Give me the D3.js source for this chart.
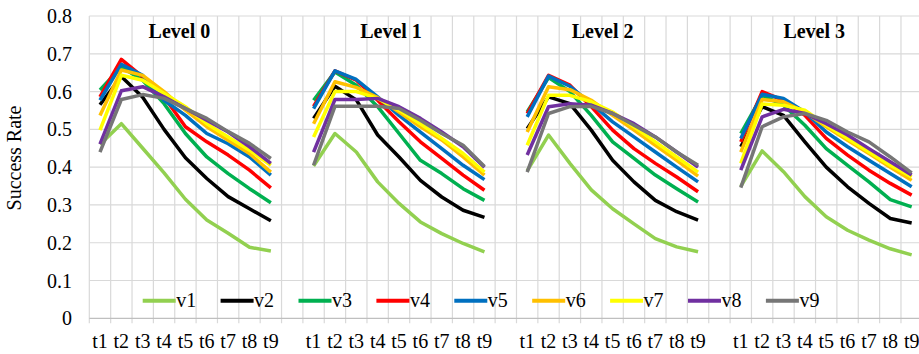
<!DOCTYPE html>
<html>
<head>
<meta charset="utf-8">
<script src="https://cdn.jsdelivr.net/npm/d3@7"></script>
<style>
  html, body { margin: 0; padding: 0; background: #fff; }
  svg { display: block; }
  svg text { font-family: 'Liberation Serif', 'DejaVu Serif', serif; }
</style>
</head>
<body>
<svg id="chart" width="919" height="354"></svg>
<script>
// categories and series
let steps = ['t1', 't2', 't3', 't4', 't5', 't6', 't7', 't8', 't9'];
let levels = ['Level 0', 'Level 1', 'Level 2', 'Level 3'];
let seriesNames = ['v1', 'v2', 'v3', 'v4', 'v5', 'v6', 'v7', 'v8', 'v9'];
let seriesColors = ['#92d050', '#000000', '#00b050', '#ff0000', '#0070c0', '#ffc000', '#ffff00', '#7030a0', '#767676'];
let yTicks = [0, 0.1, 0.2, 0.3, 0.4, 0.5, 0.6, 0.7, 0.8];

// success rate, one row per series (v1..v9), one value per step (t1..t9)
let level0 = [
    [0.46, 0.515, 0.45, 0.385, 0.315, 0.26, 0.225, 0.188, 0.178],
    [0.565, 0.64, 0.585, 0.5, 0.425, 0.37, 0.322, 0.29, 0.258],
    [0.604, 0.665, 0.63, 0.568, 0.489, 0.427, 0.383, 0.343, 0.306],
    [0.586, 0.685, 0.639, 0.586, 0.507, 0.467, 0.432, 0.392, 0.345],
    [0.577, 0.672, 0.643, 0.577, 0.537, 0.489, 0.462, 0.427, 0.379],
    [0.537, 0.657, 0.643, 0.6, 0.551, 0.507, 0.471, 0.436, 0.387],
    [0.498, 0.643, 0.63, 0.595, 0.56, 0.515, 0.48, 0.445, 0.405],
    [0.461, 0.602, 0.613, 0.586, 0.555, 0.524, 0.493, 0.454, 0.41],
    [0.44, 0.579, 0.592, 0.582, 0.555, 0.529, 0.494, 0.463, 0.423]
];
let level1 = [
    [0.403, 0.489, 0.44, 0.361, 0.304, 0.255, 0.224, 0.198, 0.176],
    [0.529, 0.614, 0.578, 0.485, 0.427, 0.365, 0.321, 0.286, 0.267],
    [0.577, 0.652, 0.617, 0.56, 0.489, 0.418, 0.383, 0.343, 0.312],
    [0.561, 0.655, 0.63, 0.577, 0.52, 0.467, 0.423, 0.379, 0.339],
    [0.555, 0.655, 0.632, 0.586, 0.537, 0.493, 0.449, 0.405, 0.367],
    [0.515, 0.626, 0.611, 0.584, 0.546, 0.507, 0.472, 0.427, 0.379],
    [0.48, 0.6, 0.6, 0.582, 0.551, 0.515, 0.476, 0.436, 0.387],
    [0.44, 0.579, 0.579, 0.582, 0.56, 0.529, 0.493, 0.454, 0.4],
    [0.405, 0.561, 0.561, 0.561, 0.555, 0.524, 0.489, 0.458, 0.402]
];
let level2 = [
    [0.39, 0.485, 0.41, 0.34, 0.29, 0.25, 0.211, 0.189, 0.176],
    [0.502, 0.586, 0.568, 0.498, 0.418, 0.361, 0.312, 0.282, 0.26],
    [0.546, 0.637, 0.6, 0.537, 0.467, 0.423, 0.379, 0.343, 0.308],
    [0.542, 0.643, 0.617, 0.56, 0.498, 0.449, 0.41, 0.374, 0.335],
    [0.533, 0.641, 0.614, 0.568, 0.52, 0.48, 0.44, 0.4, 0.361],
    [0.493, 0.613, 0.605, 0.577, 0.537, 0.498, 0.458, 0.418, 0.376],
    [0.458, 0.59, 0.59, 0.573, 0.546, 0.507, 0.467, 0.427, 0.387],
    [0.432, 0.56, 0.568, 0.564, 0.542, 0.515, 0.48, 0.44, 0.4],
    [0.387, 0.542, 0.56, 0.561, 0.542, 0.511, 0.48, 0.44, 0.405]
];
let level3 = [
    [0.349, 0.443, 0.388, 0.322, 0.269, 0.233, 0.207, 0.184, 0.168],
    [0.454, 0.56, 0.537, 0.467, 0.4, 0.348, 0.304, 0.264, 0.252],
    [0.489, 0.59, 0.564, 0.511, 0.449, 0.405, 0.361, 0.314, 0.295],
    [0.467, 0.6, 0.577, 0.537, 0.476, 0.432, 0.392, 0.357, 0.326],
    [0.476, 0.593, 0.582, 0.546, 0.493, 0.454, 0.418, 0.383, 0.348],
    [0.44, 0.579, 0.573, 0.546, 0.507, 0.471, 0.436, 0.4, 0.365],
    [0.41, 0.567, 0.564, 0.551, 0.511, 0.476, 0.44, 0.405, 0.374],
    [0.392, 0.533, 0.553, 0.542, 0.515, 0.485, 0.449, 0.414, 0.379],
    [0.346, 0.507, 0.533, 0.542, 0.524, 0.493, 0.467, 0.427, 0.385]
];
let levelData = [level0, level1, level2, level3];

let svg = d3.select('#chart');
let plotLeft = 89.3, bandW = 21.36;
let plotTop = 16, plotBottom = 318.3;
let fontSize = 20;

// each level takes 9 categories plus one empty slot
let slots = [];
levels.forEach((lv, i) => {
    steps.forEach(s => slots.push(i + '|' + s));
    slots.push(i + '|gap');
});

let x = d3.scaleBand().domain(slots).range([plotLeft, plotLeft + slots.length * bandW]).padding(0);
let y = d3.scaleLinear().domain([0, 0.8]).range([plotBottom, plotTop]);

let grid = svg.append('g');
// horizontal gridlines
grid.selectAll('line.h')
    .data(yTicks.slice(1))
    .join('line')
    .attr('class', 'h')
    .attr('x1', plotLeft).attr('x2', 919)
    .attr('y1', d => y(d)).attr('y2', d => y(d))
    .attr('stroke', '#d9d9d9').attr('stroke-width', 1.2);
// vertical gridlines at category edges
grid.selectAll('line.v')
    .data(slots)
    .join('line')
    .attr('class', 'v')
    .attr('x1', d => x(d)).attr('x2', d => x(d))
    .attr('y1', plotTop).attr('y2', plotBottom + 5)
    .attr('stroke', '#d9d9d9').attr('stroke-width', 1.2);

// x axis line
svg.append('line')
    .attr('x1', plotLeft).attr('x2', 919)
    .attr('y1', plotBottom).attr('y2', plotBottom)
    .attr('stroke', '#bfbfbf').attr('stroke-width', 1.2);

// y tick labels
svg.append('g').selectAll('text')
    .data(yTicks)
    .join('text')
    .attr('x', 72)
    .attr('y', d => y(d))
    .attr('dy', '0.35em')
    .attr('text-anchor', 'end')
    .attr('font-size', fontSize)
    .text(d => d === 0 ? '0' : d.toFixed(1));

// y axis title
svg.append('text')
    .attr('transform', 'translate(21,158) rotate(-90)')
    .attr('text-anchor', 'middle')
    .attr('font-size', fontSize)
    .text('Success Rate');

// x tick labels
svg.append('g').selectAll('text')
    .data(slots.filter(s => !s.endsWith('gap')))
    .join('text')
    .attr('x', d => x(d) + bandW / 2)
    .attr('y', 348)
    .attr('text-anchor', 'middle')
    .attr('font-size', fontSize)
    .text(d => d.split('|')[1]);

// level titles
svg.append('g').selectAll('text')
    .data(levels)
    .join('text')
    .attr('x', (d, i) => x(i + '|t5') + bandW / 2 - 6 - 2 * i)
    .attr('y', 38)
    .attr('text-anchor', 'middle')
    .attr('font-size', fontSize)
    .attr('font-weight', 'bold')
    .text(d => d);

// series lines
let line = d3.line()
    .x(d => x(d.slot) + bandW / 2)
    .y(d => y(d.value));

let lineLayer = svg.append('g');
seriesNames.forEach((name, si) => {
    levelData.forEach((lv, li) => {
        let pts = steps.map((s, k) => ({ slot: li + '|' + s, value: lv[si][k] }));
        lineLayer.append('path')
            .datum(pts)
            .attr('d', line)
            .attr('fill', 'none')
            .attr('stroke', seriesColors[si])
            .attr('stroke-width', 3.5)
            .attr('stroke-linejoin', 'round');
    });
});

// legend
let legend = svg.append('g').selectAll('g')
    .data(seriesNames)
    .join('g')
    .attr('transform', (d, i) => `translate(${142.7 + i * 77.9},300.7)`);
legend.append('line')
    .attr('x1', 0).attr('x2', 33)
    .attr('stroke', (d, i) => seriesColors[i])
    .attr('stroke-width', 4);
legend.append('text')
    .attr('x', 33.5)
    .attr('y', 6.5)
    .attr('font-size', fontSize)
    .text(d => d);
</script>
</body>
</html>
